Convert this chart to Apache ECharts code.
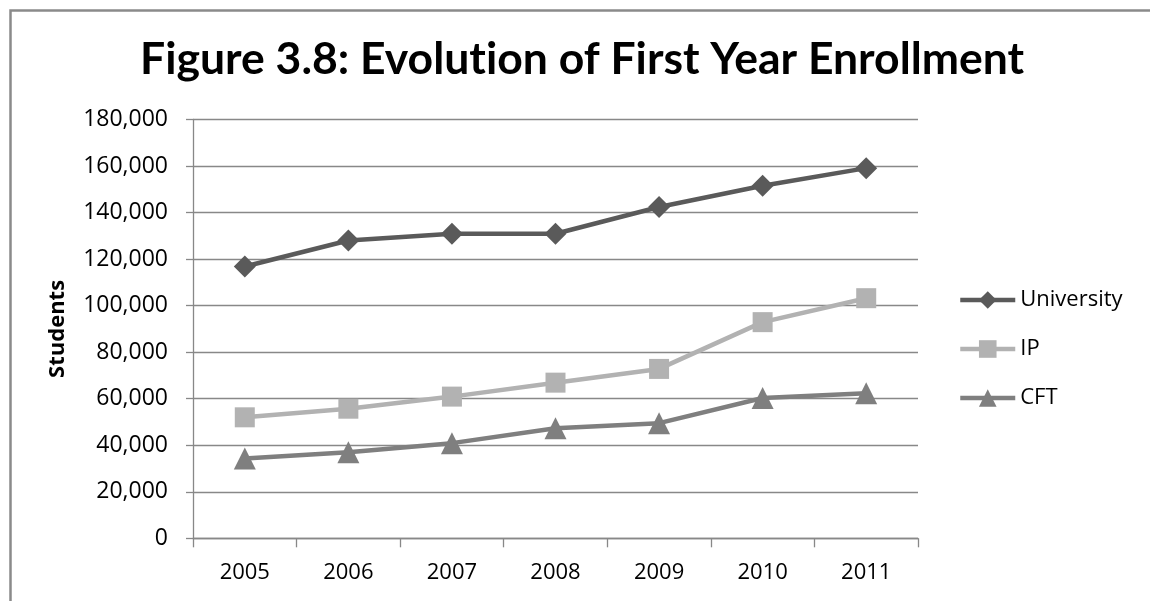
<!DOCTYPE html>
<html>
<head>
<meta charset="utf-8">
<script src="https://cdn.jsdelivr.net/npm/echarts@6/dist/echarts.min.js"></script>
<style>
html,body{margin:0;padding:0;background:#fff;}
#chart{width:1150px;height:601px;}
</style>
</head>
<body>
<div id="chart"></div>
<script>
var years = ['2005','2006','2007','2008','2009','2010','2011'];
var university = [116800, 128000, 130900, 130900, 142400, 151500, 159100];
var ip = [52000, 55700, 60900, 66900, 72800, 92900, 103200];
var cft = [34300, 37000, 40900, 47300, 49500, 60300, 62300];
var seriesNames = ['University', 'IP', 'CFT'];
var titleText = 'Figure 3.8: Evolution of First Year Enrollment';
var yAxisName = 'Students';

var chart = echarts.init(document.getElementById('chart'), null, {renderer: 'canvas'});
var axisColor = '#888888';
var labelFont = 'Open Sans';
function fmt(v){ return v.toString().replace(/\B(?=(\d{3})+(?!\d))/g, ','); }
// break the Lato "ti" ligature with an invisible non-joiner
var titleDrawn = titleText.replace('ti', 't\u200Ci');

var option = {
  animation: false,
  backgroundColor: '#ffffff',
  graphic: [{
    type: 'rect', left: 8, top: 8, z: -1,
    shape: {x: 0, y: 0, width: 1200, height: 700},
    style: {fill: 'none', stroke: '#8a8a8a', lineWidth: 2.5}
  }],
  title: {
    text: titleDrawn,
    left: 140,
    top: 37,
    padding: 0,
    textStyle: {fontFamily: 'Lato', fontWeight: 'bold', fontSize: 44.5, color: '#000'}
  },
  legend: {
    orient: 'vertical',
    left: 958,
    top: 289,
    padding: 0,
    itemWidth: 55,
    itemHeight: 22,
    itemGap: 27,
    lineStyle: {width: 4.5},
    textStyle: {fontFamily: labelFont, fontSize: 22, color: '#000'},
    data: seriesNames
  },
  grid: {left: 193, right: 232, top: 119.5, bottom: 62.7, containLabel: false},
  xAxis: {
    type: 'category',
    data: years,
    boundaryGap: true,
    axisLine: {lineStyle: {color: axisColor, width: 1.3}},
    axisTick: {show: true, length: 9, inside: false, lineStyle: {color: axisColor, width: 1.3}},
    axisLabel: {fontFamily: labelFont, fontSize: 22, color: '#000', margin: 23},
    splitLine: {show: false}
  },
  yAxis: {
    type: 'value',
    min: 0, max: 180000, interval: 20000,
    name: yAxisName,
    nameLocation: 'middle',
    nameGap: 124,
    nameRotate: 90,
    nameTextStyle: {fontFamily: labelFont, fontWeight: 'bold', fontSize: 22, color: '#000'},
    axisLine: {show: true, lineStyle: {color: axisColor, width: 1.3}},
    axisTick: {show: true, length: 7, inside: false, lineStyle: {color: axisColor, width: 1.3}},
    axisLabel: {fontFamily: labelFont, fontSize: 23, color: '#000', margin: 25, formatter: fmt},
    splitLine: {show: true, lineStyle: {color: axisColor, width: 1.3}}
  },
  series: [
    {name: seriesNames[0], type: 'line', data: university, symbol: 'diamond', symbolSize: 22,
     lineStyle: {color: '#5a5a5a', width: 4.5}, itemStyle: {color: '#5a5a5a'}},
    {name: seriesNames[1], type: 'line', data: ip, symbol: 'rect', symbolSize: 20,
     lineStyle: {color: '#b2b2b2', width: 4.5}, itemStyle: {color: '#b2b2b2'}},
    {name: seriesNames[2], type: 'line', data: cft, symbol: 'triangle', symbolSize: 22,
     lineStyle: {color: '#7f7f7f', width: 4.5}, itemStyle: {color: '#7f7f7f'}}
  ]
};
chart.setOption(option);
</script>
</body>
</html>
